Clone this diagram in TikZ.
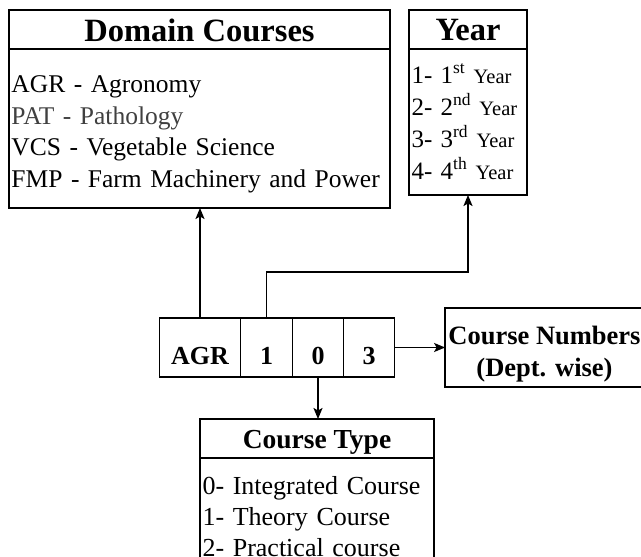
\documentclass[tikz,border=0pt]{standalone}
\usepackage{fontspec}
\setmainfont{Liberation Serif}
\usetikzlibrary{positioning,arrows.meta}
\newcommand{\yearword}{{\fontsize{20.5}{32}\selectfont Year}}

\begin{document}
\begin{tikzpicture}[
  x=1pt, y=1pt,
  node distance=0pt,
  every node/.style={outer sep=0pt},
  headbox/.style={draw, line width=1.8pt, minimum height=39pt, text depth=0pt, font=\fontsize{32.5}{36}\selectfont\bfseries},
  listbox/.style={draw, line width=1.8pt, inner xsep=2.5pt, align=left, font=\fontsize{25.5}{32}\selectfont},
  cell/.style={draw, line width=1.8pt, minimum height=59pt, minimum width=51pt, text height=33pt, text depth=0pt, font=\fontsize{26}{30}\selectfont\bfseries},
  numbox/.style={draw, line width=1.8pt, align=center, text depth=0pt, font=\fontsize{26.5}{32}\selectfont\bfseries},
  arrow/.style={-{Stealth[length=11pt,width=9pt,inset=2.5pt]}, line width=1.8pt}
]
\useasboundingbox (0,0) rectangle (641,-557);

% Nodes
\node[headbox, minimum width=381pt, text height=24pt] (dhead) at (199.5,-29.5) {Domain Courses};
\node[listbox, below=of dhead, minimum width=381pt, minimum height=159pt, text width=376pt, text height=20pt, text depth=92pt, font=\fontsize{25.5}{31.6}\selectfont] (dbody) {AGR - Agronomy\\ \textcolor{black!75}{PAT - Pathology}\\ VCS - Vegetable Science\\ FMP - Farm Machinery and Power};

\node[headbox, minimum width=118pt, text height=21pt] (yhead) at (468,-29.5) {Year};
\node[listbox, below=of yhead, minimum width=118pt, minimum height=146pt, text width=113pt, text height=21pt, text depth=99pt, font=\fontsize{25}{32}\selectfont] (ybody) {1- 1\textsuperscript{st} \yearword\\ 2- 2\textsuperscript{nd} \yearword\\ 3- 3\textsuperscript{rd} \yearword\\ 4- 4\textsuperscript{th} \yearword};

\node[cell, minimum width=81pt] (agr) at (200,-347.5) {AGR};
\node[cell, right=of agr, minimum width=52pt] (one) {1};
\node[cell, right=of one] (zero) {0};
\node[cell, right=of zero] (three) {3};

\node[numbox, minimum width=197pt, minimum height=79pt, text height=57pt] (cnum) at (544.5,-347.5) {Course Numbers\\ (Dept. wise)};

\node[headbox, minimum width=234pt, text height=20pt, font=\fontsize{27.5}{30}\selectfont\bfseries] (thead) at (317,-438.5) {Course Type};
\node[listbox, below=of thead, minimum width=234pt, minimum height=117pt, text width=229pt, text height=23pt, text depth=67pt, font=\fontsize{26}{31}\selectfont] (tbody) {0- Integrated Course\\ 1- Theory Course\\ 2- Practical course};

% Arrows
\draw[arrow] (agr.north) -- (agr.north |- dbody.south);
\draw[arrow] (one.north) -- ++(0,46) -| (ybody.south);
\draw[arrow] (three.east) -- (three.east -| cnum.west);
\draw[arrow] (zero.south) -- (zero.south |- thead.north);
\end{tikzpicture}
\end{document}
